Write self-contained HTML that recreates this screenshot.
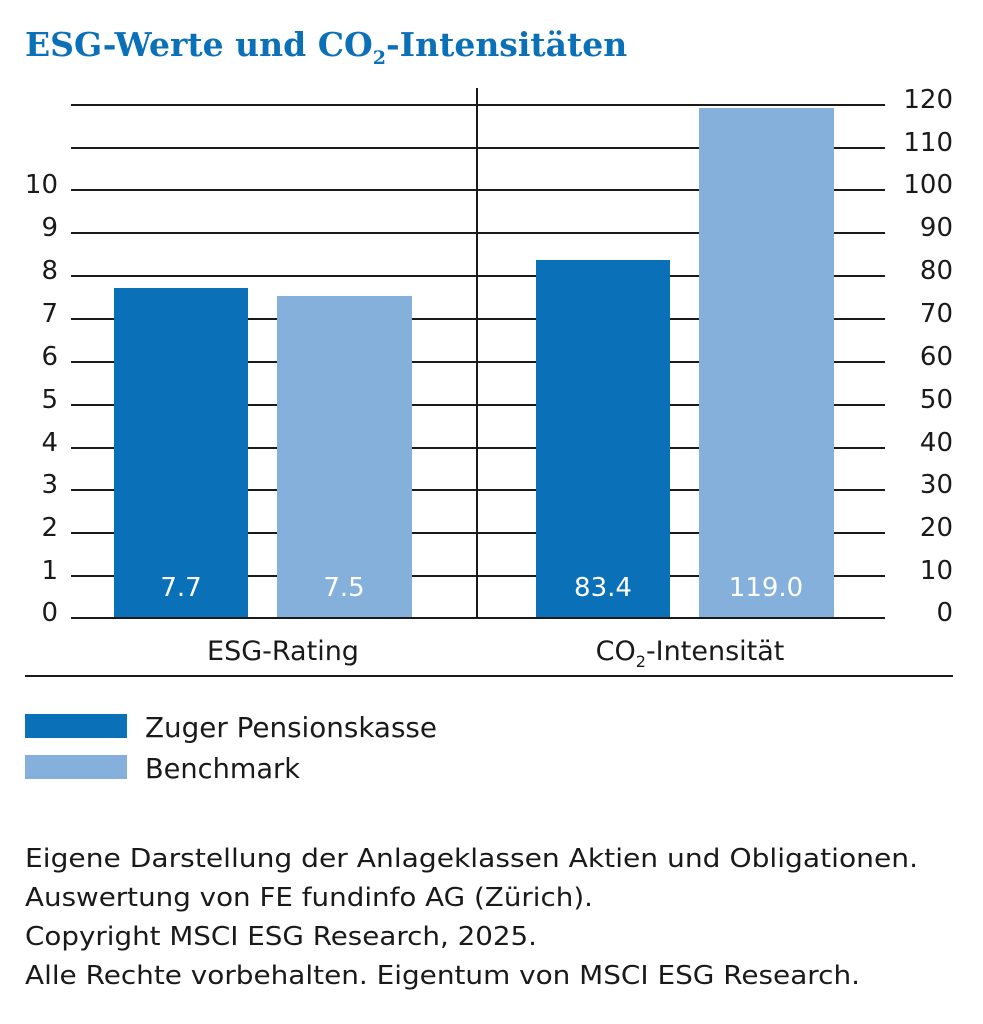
<!DOCTYPE html>
<html><head><meta charset="utf-8"><style>
body{margin:0;background:#fff;width:983px;height:1024px;overflow:hidden}
svg{display:block}
text{font-family:"DejaVu Sans","Liberation Sans",sans-serif;fill:#1a1a1a}
</style></head><body>
<svg width="983" height="1024" viewBox="0 0 983 1024">
<text x="25" y="56" style="font-family:'DejaVu Serif','Liberation Serif',serif;font-weight:bold;font-size:33px;fill:#0a70b8">ESG-Werte und CO<tspan font-size="19" dy="8">2</tspan><tspan dy="-8">-Intensitäten</tspan></text>
<g stroke="#1a1a1a" stroke-width="2">
<line x1="71" x2="885" y1="105" y2="105"/><line x1="71" x2="885" y1="148" y2="148"/>
<line x1="71" x2="885" y1="190" y2="190"/><line x1="71" x2="885" y1="233" y2="233"/>
<line x1="71" x2="885" y1="276" y2="276"/><line x1="71" x2="885" y1="319" y2="319"/>
<line x1="71" x2="885" y1="362" y2="362"/><line x1="71" x2="885" y1="405" y2="405"/>
<line x1="71" x2="885" y1="448" y2="448"/><line x1="71" x2="885" y1="490" y2="490"/>
<line x1="71" x2="885" y1="533" y2="533"/><line x1="71" x2="885" y1="576" y2="576"/>
<line x1="477" x2="477" y1="88" y2="618"/>
<line x1="25" x2="953" y1="676" y2="676"/>
</g>
<rect x="114" y="288" width="134" height="330" fill="#0a70b8"/>
<rect x="277" y="296" width="135" height="322" fill="#85b0dc"/>
<rect x="536" y="260" width="134" height="358" fill="#0a70b8"/>
<rect x="699" y="108" width="135" height="510" fill="#85b0dc"/>
<line x1="71" x2="885" y1="618" y2="618" stroke="#1a1a1a" stroke-width="2"/>
<g font-size="26">
<text x="181" y="596" text-anchor="middle" style="fill:#fff">7.7</text>
<text x="344" y="596" text-anchor="middle" style="fill:#fff">7.5</text>
<text x="603" y="596" text-anchor="middle" style="fill:#fff">83.4</text>
<text x="766" y="596" text-anchor="middle" style="fill:#fff">119.0</text>
</g>
<g font-size="26" text-anchor="end">
<text x="58" y="193">10</text><text x="58" y="236">9</text><text x="58" y="279">8</text>
<text x="58" y="322">7</text><text x="58" y="365">6</text><text x="58" y="408">5</text>
<text x="58" y="451">4</text><text x="58" y="493">3</text><text x="58" y="536">2</text>
<text x="58" y="579">1</text><text x="58" y="621">0</text>
</g>
<g font-size="26" text-anchor="end">
<text x="953" y="108">120</text><text x="953" y="151">110</text><text x="953" y="193">100</text>
<text x="953" y="236">90</text><text x="953" y="279">80</text><text x="953" y="322">70</text>
<text x="953" y="365">60</text><text x="953" y="408">50</text><text x="953" y="451">40</text>
<text x="953" y="493">30</text><text x="953" y="536">20</text><text x="953" y="579">10</text>
<text x="953" y="621">0</text>
</g>
<text x="283" y="660" font-size="27" text-anchor="middle">ESG-Rating</text>
<text x="690" y="660" font-size="27" text-anchor="middle">CO<tspan font-size="16" dy="7">2</tspan><tspan dy="-7">-Intensität</tspan></text>
<rect x="25" y="714" width="102" height="24" fill="#0a70b8"/>
<rect x="25" y="755" width="102" height="24" fill="#85b0dc"/>
<text x="145" y="737" font-size="28" textLength="292" lengthAdjust="spacingAndGlyphs">Zuger Pensionskasse</text>
<text x="145" y="778" font-size="28" textLength="155" lengthAdjust="spacingAndGlyphs">Benchmark</text>
<g font-size="26">
<text x="25" y="867" textLength="893" lengthAdjust="spacingAndGlyphs">Eigene Darstellung der Anlageklassen Aktien und Obligationen.</text>
<text x="25" y="906" textLength="568" lengthAdjust="spacingAndGlyphs">Auswertung von FE fundinfo AG (Zürich).</text>
<text x="25" y="945" textLength="512" lengthAdjust="spacingAndGlyphs">Copyright MSCI ESG Research, 2025.</text>
<text x="25" y="984" textLength="835" lengthAdjust="spacingAndGlyphs">Alle Rechte vorbehalten. Eigentum von MSCI ESG Research.</text>
</g>
</svg>
</body></html>
